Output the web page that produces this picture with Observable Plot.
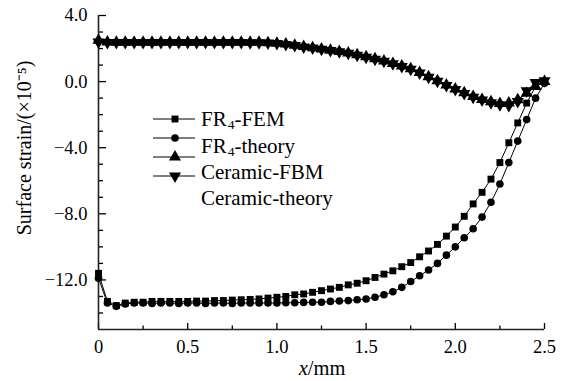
<!DOCTYPE html>
<html>
<head>
<meta charset="utf-8">
<script src="https://cdn.jsdelivr.net/npm/d3@7"></script>
<script src="https://cdn.jsdelivr.net/npm/@observablehq/plot@0.6"></script>
<style>
  body { margin: 0; background: #fff; }
  #wrap { position: relative; width: 573px; height: 381px; font-family: "Liberation Serif", "Times New Roman", serif; }
  #legend { position: absolute; left: 0; top: 0; pointer-events: none; }
</style>
</head>
<body>
<div id="wrap"></div>
<script>
// ---- data ----
const xValues = [0,0.05,0.1,0.15,0.2,0.25,0.3,0.35,0.4,0.45,0.5,0.55,0.6,0.65,0.7,0.75,0.8,0.85,0.9,0.95,
  1.0,1.05,1.1,1.15,1.2,1.25,1.3,1.35,1.4,1.45,1.5,1.55,1.6,1.65,1.7,1.75,1.8,1.85,1.9,1.95,
  2.0,2.05,2.1,2.15,2.2,2.25,2.3,2.35,2.4,2.45,2.5];

const fr4Fem = [-11.6,-13.3,-13.55,-13.4,-13.35,-13.35,-13.3,-13.3,-13.3,-13.3,-13.3,-13.28,-13.28,-13.25,-13.25,-13.22,-13.2,-13.18,-13.15,-13.1,
  -13.05,-13.0,-12.9,-12.85,-12.75,-12.65,-12.55,-12.45,-12.3,-12.2,-12.05,-11.85,-11.65,-11.45,-11.2,-10.95,-10.6,-10.25,-9.85,-9.35,
  -8.8,-8.15,-7.4,-6.7,-5.9,-4.9,-3.7,-2.5,-1.3,-0.3,0.0];

const fr4Theory = [-11.9,-13.4,-13.6,-13.45,-13.4,-13.4,-13.42,-13.4,-13.4,-13.42,-13.4,-13.4,-13.42,-13.4,-13.4,-13.42,-13.4,-13.4,-13.4,-13.4,
  -13.4,-13.38,-13.38,-13.36,-13.35,-13.35,-13.3,-13.28,-13.25,-13.2,-13.15,-13.05,-12.9,-12.72,-12.45,-12.1,-11.75,-11.4,-11.0,-10.5,
  -10.0,-9.45,-8.9,-8.2,-7.3,-6.2,-4.9,-3.6,-2.3,-1.0,-0.1];

const ceramicFbm = [2.5,2.4,2.38,2.38,2.38,2.38,2.38,2.38,2.38,2.38,2.38,2.38,2.38,2.38,2.38,2.38,2.38,2.38,2.38,2.35,
  2.32,2.27,2.2,2.12,2.05,1.98,1.9,1.82,1.73,1.62,1.5,1.38,1.25,1.1,0.95,0.78,0.55,0.3,0.05,-0.2,
  -0.45,-0.68,-0.9,-1.08,-1.22,-1.32,-1.3,-1.1,-0.7,-0.3,0.0];

const ceramicTheory = [2.4,2.36,2.36,2.36,2.36,2.36,2.36,2.36,2.36,2.36,2.36,2.36,2.36,2.36,2.36,2.36,2.36,2.35,2.35,2.33,
  2.3,2.25,2.18,2.1,2.03,1.96,1.88,1.8,1.71,1.6,1.48,1.36,1.23,1.08,0.92,0.75,0.52,0.27,0.02,-0.23,
  -0.48,-0.72,-0.94,-1.12,-1.28,-1.4,-1.45,-1.2,-0.55,-0.05,0.05];

const seriesNames = ["FR4-FEM", "FR4-theory", "Ceramic-FBM", "Ceramic-theory"];
const legendLabels = [["FR","4","-FEM"], ["FR","4","-theory"], ["Ceramic-FBM"], ["Ceramic-theory"]];

const yMajor = [4, 0, -4, -8, -12];
const yMinor = [3, 2, 1, -1, -2, -3, -5, -6, -7, -9, -10, -11, -13, -14];
const xMajor = [0, 0.5, 1.0, 1.5, 2.0, 2.5];
const xMinor = [0.25, 0.75, 1.25, 1.75, 2.25];

// ---- symbols ----
const sqrt3 = Math.sqrt(3);
const triangleDown = {
  draw(context, size) {
    const y = -Math.sqrt(size / (sqrt3 * 3));
    context.moveTo(0, -y * 2);
    context.lineTo(-sqrt3 * y, y);
    context.lineTo(sqrt3 * y, y);
    context.closePath();
  }
};
const symbols = [d3.symbolSquare, d3.symbolCircle, d3.symbolTriangle, triangleDown];
const radii = [3.9, 3.8, 4.5, 4.5];

const allSeries = [fr4Fem, fr4Theory, ceramicFbm, ceramicTheory];
const rows = allSeries.flatMap((vals, si) => vals.map((v, i) => ({series: seriesNames[si], x: xValues[i], y: v})));

const marks = [];
allSeries.forEach((vals, si) => {
  const data = rows.filter(d => d.series === seriesNames[si]);
  marks.push(Plot.line(data, {x: "x", y: "y", stroke: "black", strokeWidth: 1}));
});
allSeries.forEach((vals, si) => {
  const data = rows.filter(d => d.series === seriesNames[si]);
  marks.push(Plot.dot(data, {x: "x", y: "y", symbol: () => symbols[si], r: radii[si], fill: "black", stroke: "none"}));
});

const fmtY = d3.format(".1f");
const fmtX = d => d === 0 ? "0" : d.toFixed(1);

const chart = Plot.plot({
  width: 573,
  height: 381,
  marginLeft: 98,
  marginRight: 29,
  marginTop: 15,
  marginBottom: 52,
  style: {fontFamily: "'Liberation Serif', 'Times New Roman', serif", fontSize: "18px", color: "black", background: "white"},
  x: {domain: [0, 2.5]},
  y: {domain: [-15, 4]},
  symbol: {type: "identity"},
  marks: [
    Plot.axisY(yMajor, {tickSize: 0, tickPadding: 11, tickFormat: fmtY, label: null, fontSize: 18.5}),
    Plot.axisY(yMajor, {tickSize: -8, tickFormat: () => "", label: null, strokeWidth: 1.3}),
    Plot.axisY(yMinor, {tickSize: -5, tickFormat: () => "", label: null, strokeWidth: 1.3}),
    Plot.axisX(xMajor, {tickSize: 0, tickPadding: 10, tickFormat: fmtX, label: null, fontSize: 18.5}),
    Plot.axisX(xMajor, {tickSize: -6, tickFormat: () => "", label: null, strokeWidth: 1.3}),
    Plot.axisX(xMinor, {tickSize: -3.5, tickFormat: () => "", label: null, strokeWidth: 1.3}),
    Plot.ruleX([0], {stroke: "#222", strokeWidth: 1.6}),
    Plot.ruleY([-15], {stroke: "#222", strokeWidth: 1.6}),
    ...marks
  ]
});

const wrap = document.getElementById("wrap");
wrap.appendChild(chart);

// ---- axis titles and legend overlay ----
const ov = d3.select(wrap).append("svg")
  .attr("id", "legend")
  .attr("width", 573).attr("height", 381)
  .style("font-family", "'Liberation Serif', 'Times New Roman', serif");

ov.append("text")
  .attr("transform", "translate(31,148) rotate(-90)")
  .attr("text-anchor", "middle")
  .attr("font-size", 20)
  .text("Surface strain/(×10⁻⁵)");

const xl = ov.append("text")
  .attr("x", 322).attr("y", 375)
  .attr("text-anchor", "middle")
  .attr("font-size", 20.5);
xl.append("tspan").attr("font-style", "italic").text("x");
xl.append("tspan").text("/mm");

// legend symbols (4 rows) and labels (rows offset as in the reference)
const symRowY = [119, 138, 157, 176];
symbols.forEach((s, i) => {
  ov.append("line").attr("x1", 153).attr("x2", 195).attr("y1", symRowY[i]).attr("y2", symRowY[i])
    .attr("stroke", "black").attr("stroke-width", 1.2);
  ov.append("path").attr("d", d3.symbol(s, Math.PI * radii[i] * radii[i])())
    .attr("transform", `translate(175,${symRowY[i]})`).attr("fill", "black");
});
const textRowY = [119, 145.5, 172, 197.5];
legendLabels.forEach((parts, i) => {
  const t = ov.append("text").attr("x", 201).attr("y", textRowY[i]).attr("dy", "0.35em").attr("font-size", 21);
  if (parts.length === 3) {
    t.append("tspan").text(parts[0]);
    t.append("tspan").attr("font-size", 13.5).attr("dy", 3).attr("dx", 1).text(parts[1]);
    t.append("tspan").attr("dy", -3).text(parts[2]);
  } else {
    t.text(parts[0]);
  }
});
</script>
</body>
</html>
